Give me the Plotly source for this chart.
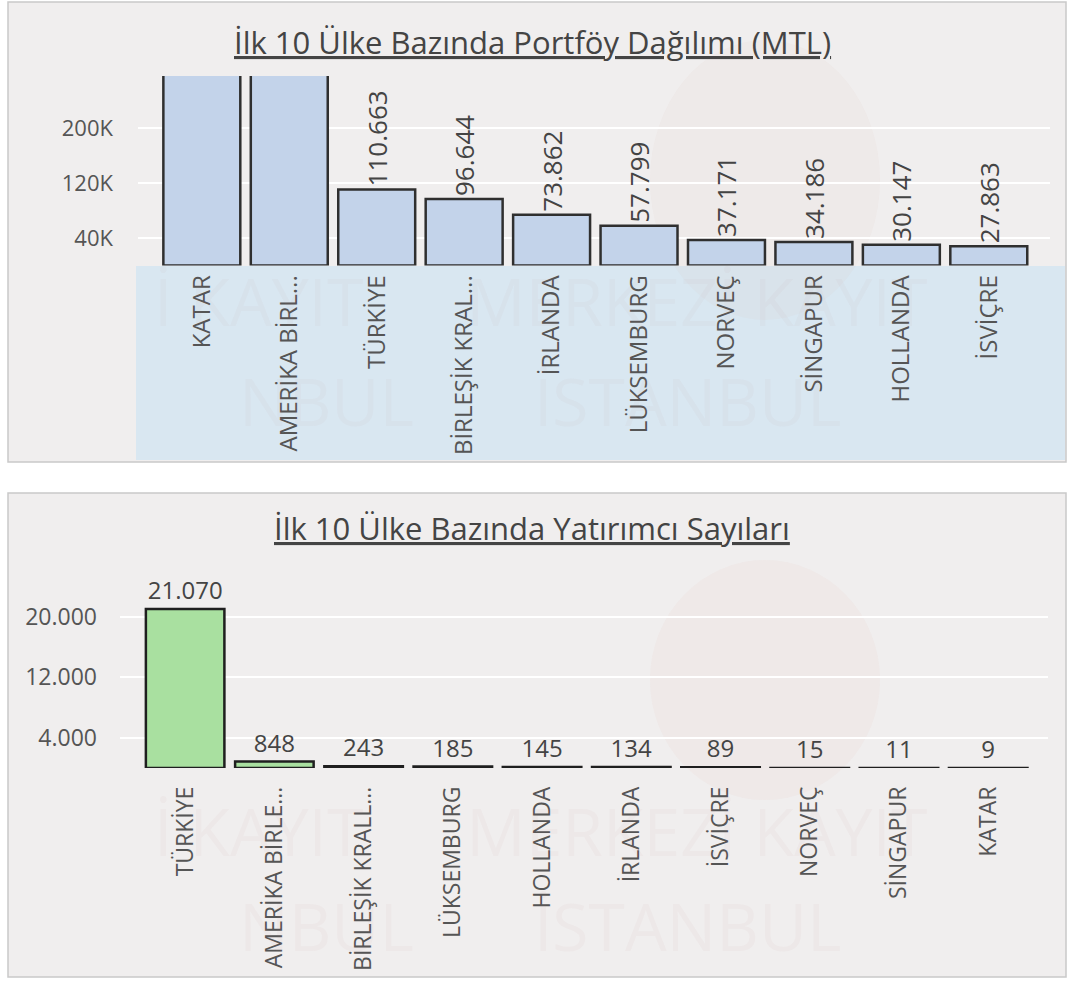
import plotly.graph_objects as go

W, H = 1068, 982

# top chart: portfolio by country (MTL)
portfoy_ulkeler = ["KATAR", "AMERİKA BİRL...", "TÜRKİYE", "BİRLEŞİK KRAL...", "İRLANDA",
                   "LÜKSEMBURG", "NORVEÇ", "SİNGAPUR", "HOLLANDA", "İSVİÇRE"]
portfoy_degerler = [420000, 330000, 110663, 96644, 73862, 57799, 37171, 34186, 30147, 27863]
portfoy_tickvals = [40000, 120000, 200000]
portfoy_ticktext = ["40K", "120K", "200K"]

# bottom chart: investor counts
yatirimci_ulkeler = ["TÜRKİYE", "AMERİKA BİRLE...", "BİRLEŞİK KRALL...", "LÜKSEMBURG", "HOLLANDA",
                     "İRLANDA", "İSVİÇRE", "NORVEÇ", "SİNGAPUR", "KATAR"]
yatirimci_sayilari = [21070, 848, 243, 185, 145, 134, 89, 15, 11, 9]
yatirimci_tickvals = [4000, 12000, 20000]

TOP_MAX = 275600
BOT_MAX = 25300
FONT = "Open Sans"


def px_y(y):
    return 1 - y / H


def px_x(x):
    return x / W


def fmt(v):
    return f"{v:,}".replace(",", ".")


top_text = [fmt(v) if v < TOP_MAX else "" for v in portfoy_degerler]
bot_text = [fmt(v) for v in yatirimci_sayilari]

fig = go.Figure()

fig.add_trace(go.Bar(
    x=portfoy_ulkeler, y=portfoy_degerler, xaxis="x", yaxis="y",
    marker=dict(color="#c3d3ea", line=dict(color="#2f2f2f", width=2.5)),
    text=top_text, textposition="outside", textangle=-90, constraintext="none",
    textfont=dict(family=FONT, size=26, color="#444444"),
    showlegend=False,
))
fig.add_trace(go.Bar(
    x=yatirimci_ulkeler, y=yatirimci_sayilari, xaxis="x2", yaxis="y2",
    marker=dict(color="#a9e0a0", line=dict(color="#1f1f1f", width=2.5)),
    text=bot_text, textposition="outside", textangle=0, constraintext="none",
    textfont=dict(family=FONT, size=24, color="#444444"),
    showlegend=False,
))

shapes = [
    # panel frames
    dict(type="rect", xref="paper", yref="paper", x0=px_x(8), x1=px_x(1066), y0=px_y(462), y1=px_y(2),
         fillcolor="#f0eeee", line=dict(color="#c9c9c9", width=1.5), layer="below"),
    dict(type="rect", xref="paper", yref="paper", x0=px_x(8), x1=px_x(1066), y0=px_y(977), y1=px_y(493),
         fillcolor="#f0eeee", line=dict(color="#c9c9c9", width=1.5), layer="below"),
    # light blue band behind the top labels
    dict(type="rect", xref="paper", yref="paper", x0=px_x(136), x1=px_x(1065), y0=px_y(460), y1=px_y(266),
         fillcolor="#d9e7f1", line=dict(width=0), layer="below"),
    # faint logo circles
    dict(type="circle", xref="paper", yref="paper", x0=px_x(650), x1=px_x(880), y0=px_y(320), y1=px_y(40),
         fillcolor="rgba(225,170,160,0.06)", line=dict(width=0), layer="below"),
    dict(type="circle", xref="paper", yref="paper", x0=px_x(650), x1=px_x(880), y0=px_y(800), y1=px_y(560),
         fillcolor="rgba(225,170,160,0.07)", line=dict(width=0), layer="below"),
]

annotations = [
    dict(text="<u>İlk 10 Ülke Bazında Portföy Dağılımı (MTL)</u>", xref="paper", yref="paper",
         x=px_x(532), y=px_y(42), showarrow=False, xanchor="center", yanchor="middle",
         font=dict(family=FONT, size=31, color="#444444")),
    dict(text="<u>İlk 10 Ülke Bazında Yatırımcı Sayıları</u>", xref="paper", yref="paper",
         x=px_x(532), y=px_y(528), showarrow=False, xanchor="center", yanchor="middle",
         font=dict(family=FONT, size=31, color="#444444")),
]
# faint watermark text
for y_line, txt in [(300, "İ KAYIT      MERKEZİ KAYIT"), (400, "NBUL       İSTANBUL"),
                    (830, "İ KAYIT      MERKEZİ KAYIT"), (925, "NBUL       İSTANBUL")]:
    annotations.append(dict(text=txt, xref="paper", yref="paper", x=px_x(540), y=px_y(y_line),
                            showarrow=False, xanchor="center", yanchor="middle",
                            font=dict(family=FONT, size=66, color="rgba(200,140,140,0.05)")))

fig.update_layout(
    width=W, height=H,
    margin=dict(l=0, r=0, t=0, b=0),
    paper_bgcolor="white", plot_bgcolor="rgba(0,0,0,0)",
    separators=",.",
    bargap=0.12,
    shapes=shapes, annotations=annotations,
    xaxis=dict(domain=[px_x(138), px_x(1050)], anchor="y", type="category", automargin=False,
               range=[-0.73, 9.7], tickangle=-90, showgrid=False, showline=False, ticks="",
               tickfont=dict(family=FONT, size=24, color="#555555"), ticklabelstandoff=4),
    yaxis=dict(domain=[px_y(265.5), px_y(76)], anchor="x", range=[0, TOP_MAX], automargin=False,
               tickvals=portfoy_tickvals, ticktext=portfoy_ticktext,
               tickfont=dict(family=FONT, size=22, color="#555555"),
               showgrid=True, gridcolor="#ffffff", gridwidth=1.5, zeroline=False, ticklabelstandoff=24),
    xaxis2=dict(domain=[px_x(120), px_x(1048)], anchor="y2", type="category", automargin=False,
                range=[-0.73, 9.67], tickangle=-90, showgrid=False, showline=False, ticks="",
                tickfont=dict(family=FONT, size=23, color="#555555"), ticklabelstandoff=13),
    yaxis2=dict(domain=[px_y(768), px_y(577)], anchor="x2", range=[0, BOT_MAX], automargin=False,
                tickvals=yatirimci_tickvals, tickformat=",d",
                tickfont=dict(family=FONT, size=23, color="#555555"),
                showgrid=True, gridcolor="#ffffff", gridwidth=1.5, zeroline=False, ticklabelstandoff=22),
)

fig.write_html("out.html", config={"displayModeBar": False},
               post_script="document.body.style.margin='0px';")
